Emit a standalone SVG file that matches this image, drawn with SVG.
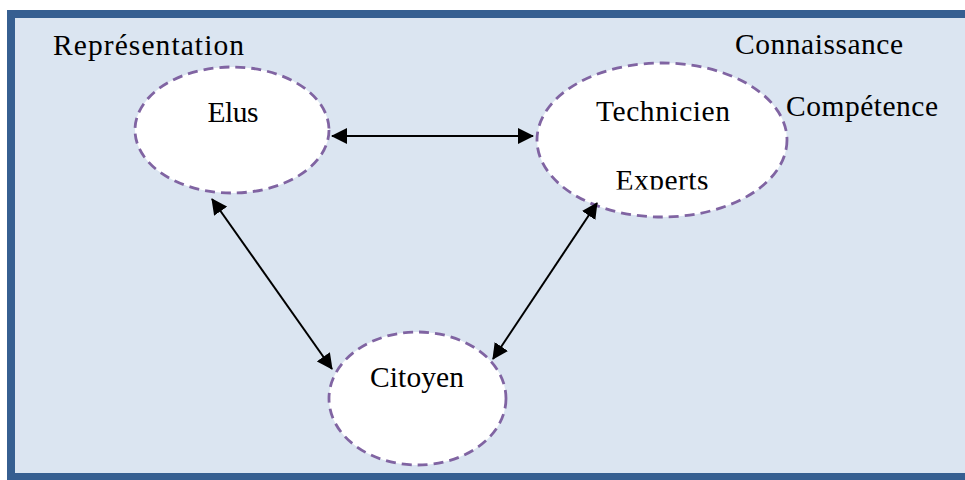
<svg xmlns="http://www.w3.org/2000/svg" width="965" height="480" viewBox="0 0 965 480">
<style>
.lbl{font-family:"Liberation Serif","DejaVu Serif",serif;font-size:29.5px;fill:#000}
.node ellipse{fill:#fff;stroke:#8064A2;stroke-width:2.8;stroke-dasharray:10 6}
.conn line{stroke:#000;stroke-width:2}
</style>
<defs>
<marker id="ah" markerWidth="8" markerHeight="8" refX="7.5" refY="4" orient="auto-start-reverse" markerUnits="strokeWidth">
<path d="M0,0 L8,4 L0,8 Z" fill="#000"/>
</marker>
<clipPath id="clipExp"><rect x="600" y="150" width="130" height="39.5"/></clipPath>
</defs>
<rect x="7" y="10" width="958" height="470" fill="#365F91"/>
<rect x="15" y="18" width="950" height="455" fill="#DBE5F1"/>
<text class="lbl" x="53" y="55" textLength="191">Représentation</text>
<text class="lbl" x="735" y="54" textLength="168">Connaissance</text>
<text class="lbl" x="786" y="116" textLength="152">Compétence</text>
<g id="elus" class="node">
<ellipse cx="232" cy="130" rx="97" ry="63"/>
<text class="lbl" x="233" y="122" text-anchor="middle" textLength="51">Elus</text>
</g>
<g id="technicien" class="node">
<ellipse cx="662" cy="140" rx="125" ry="77"/>
<text class="lbl" x="663" y="121" text-anchor="middle" textLength="134">Technicien</text>
<text class="lbl" x="662" y="190" text-anchor="middle" textLength="93" clip-path="url(#clipExp)">Experts</text>
</g>
<g id="citoyen" class="node">
<ellipse cx="417.5" cy="398.5" rx="88.5" ry="66.5"/>
<text class="lbl" x="417" y="387" text-anchor="middle" textLength="94">Citoyen</text>
</g>
<g id="connectors" class="conn">
<line x1="332" y1="136" x2="533" y2="136" marker-start="url(#ah)" marker-end="url(#ah)"/>
<line x1="212" y1="199" x2="332" y2="369" marker-start="url(#ah)" marker-end="url(#ah)"/>
<line x1="597" y1="203" x2="493" y2="359" marker-start="url(#ah)" marker-end="url(#ah)"/>
</g>
</svg>
